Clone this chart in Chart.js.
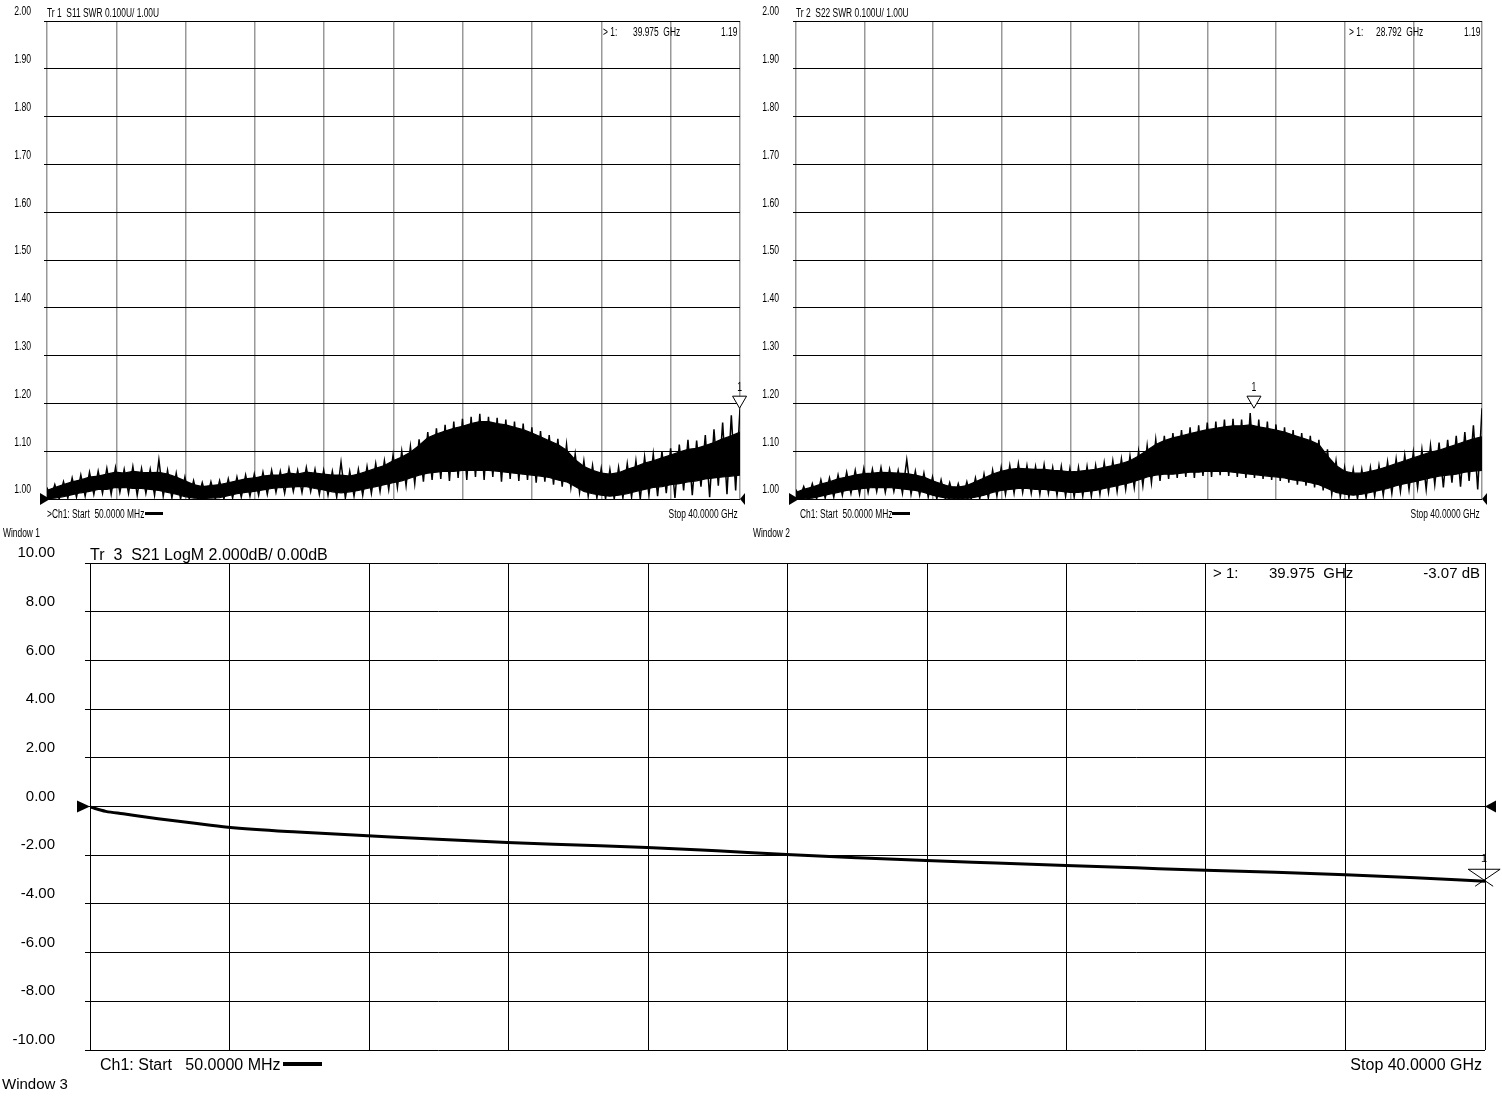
<!DOCTYPE html>
<html>
<head>
<meta charset="utf-8">
<script src="https://cdn.jsdelivr.net/npm/chart.js@4.4.1/dist/chart.umd.min.js"></script>
<style>
body { margin: 0; background: #fff; }
#page { position: relative; width: 1502px; height: 1096px; overflow: hidden; background: #fff; }
canvas { position: absolute; }
.t { position: absolute; white-space: pre; color: #000; line-height: 1; }
.n { font: 12px 'Liberation Sans', Arial, sans-serif; transform: scaleX(0.7); transform-origin: left top; }
.n.r { transform-origin: right top; }
.w { font: 16px 'Liberation Sans', Arial, Helvetica, sans-serif; }
.bar { position: absolute; background: #000; }
</style>
</head>
<body>
<div id="page">
<canvas id="c1" width="760" height="515" style="left:0;top:0"></canvas>
<canvas id="c2" width="750" height="515" style="left:752px;top:0"></canvas>
<canvas id="c3" width="1502" height="566" style="left:0;top:530px"></canvas>

<div class="t n" style="left:47px;top:6px">Tr 1  S11 SWR 0.100U/ 1.00U</div>
<div class="t n" style="left:603px;top:25px">&gt; 1:</div>
<div class="t n" style="left:633px;top:25px">39.975  GHz</div>
<div class="t n r" style="right:765px;top:25px">1.19</div>
<div class="t n" style="left:47px;top:507px">&gt;Ch1: Start  50.0000 MHz</div>
<div class="bar" style="left:145px;top:512px;width:18px;height:3px"></div>
<div class="t n r" style="right:764px;top:507px">Stop 40.0000 GHz</div>
<div class="t n" style="left:3px;top:526px">Window 1</div>

<div class="t n" style="left:796px;top:6px">Tr 2  S22 SWR 0.100U/ 1.00U</div>
<div class="t n" style="left:1349px;top:25px">&gt; 1:</div>
<div class="t n" style="left:1376px;top:25px">28.792  GHz</div>
<div class="t n r" style="right:22px;top:25px">1.19</div>
<div class="t n" style="left:800px;top:507px">Ch1: Start  50.0000 MHz</div>
<div class="bar" style="left:892px;top:512px;width:18px;height:3px"></div>
<div class="t n r" style="right:22px;top:507px">Stop 40.0000 GHz</div>
<div class="t n" style="left:753px;top:526px">Window 2</div>

<div class="t w" style="left:90px;top:546px">Tr  3  S21 LogM 2.000dB/ 0.00dB</div>
<div class="t w" style="left:1213px;top:564px;font-size:15px">&gt; 1:</div>
<div class="t w" style="left:1269px;top:564px;font-size:15px">39.975  GHz</div>
<div class="t w" style="right:22px;top:564px;font-size:15px">-3.07 dB</div>
<div class="t w" style="left:100px;top:1056px">Ch1: Start   50.0000 MHz</div>
<div class="bar" style="left:283px;top:1062px;width:39px;height:4px"></div>
<div class="t w" style="right:20px;top:1056px">Stop 40.0000 GHz</div>
<div class="t w" style="left:2px;top:1075px;font-size:15px">Window 3</div>
</div>

<script>
// sweep points (GHz) for the SWR noise band
const swrFreq = [0.05, 0.5, 1, 1.5, 2, 2.5, 3, 3.5, 4, 4.5, 5, 5.5, 6, 6.5, 7, 7.5, 8, 8.5, 9, 9.5,
  10, 10.5, 11, 11.5, 12, 12.5, 13, 13.5, 14, 14.5, 15, 15.5, 16, 16.5, 17, 17.5, 18, 18.5, 19, 19.5,
  20, 20.5, 21, 21.5, 22, 22.5, 23, 23.5, 24, 24.5, 25, 25.5, 26, 26.5, 27, 27.5, 28, 28.5, 29, 29.5,
  30, 30.5, 31, 31.5, 32, 32.5, 33, 33.5, 34, 34.5, 35, 35.5, 36, 36.5, 37, 37.5, 38, 38.5, 39, 39.5, 40];

// finer sweep points for the spikes
const swrFine = [0.05, 0.25, 0.5, 0.75, 1, 1.25, 1.5, 1.75, 2, 2.25, 2.5, 2.75, 3, 3.25, 3.5, 3.75, 4, 4.25, 4.5, 4.75,
  5, 5.25, 5.5, 5.75, 6, 6.25, 6.5, 6.75, 7, 7.25, 7.5, 7.75, 8, 8.25, 8.5, 8.75, 9, 9.25, 9.5, 9.75,
  10, 10.25, 10.5, 10.75, 11, 11.25, 11.5, 11.75, 12, 12.25, 12.5, 12.75, 13, 13.25, 13.5, 13.75, 14, 14.25, 14.5, 14.75,
  15, 15.25, 15.5, 15.75, 16, 16.25, 16.5, 16.75, 17, 17.25, 17.5, 17.75, 18, 18.25, 18.5, 18.75, 19, 19.25, 19.5, 19.75,
  20, 20.25, 20.5, 20.75, 21, 21.25, 21.5, 21.75, 22, 22.25, 22.5, 22.75, 23, 23.25, 23.5, 23.75, 24, 24.25, 24.5, 24.75,
  25, 25.25, 25.5, 25.75, 26, 26.25, 26.5, 26.75, 27, 27.25, 27.5, 27.75, 28, 28.25, 28.5, 28.75, 29, 29.25, 29.5, 29.75,
  30, 30.25, 30.5, 30.75, 31, 31.25, 31.5, 31.75, 32, 32.25, 32.5, 32.75, 33, 33.25, 33.5, 33.75, 34, 34.25, 34.5, 34.75,
  35, 35.25, 35.5, 35.75, 36, 36.25, 36.5, 36.75, 37, 37.25, 37.5, 37.75, 38, 38.25, 38.5, 38.75, 39, 39.25, 39.5, 39.75, 40];

// S11 SWR: solid core of the band (top / bottom)
const s11Hi = [1.018, 1.024, 1.03, 1.036, 1.04, 1.046, 1.048, 1.052, 1.056, 1.054, 1.058, 1.056, 1.055, 1.056, 1.052, 1.046, 1.038, 1.03, 1.026, 1.028,
  1.03, 1.034, 1.038, 1.042, 1.044, 1.048, 1.05, 1.05, 1.054, 1.052, 1.056, 1.054, 1.052, 1.05, 1.05, 1.048, 1.052, 1.058, 1.064, 1.07,
  1.08, 1.088, 1.098, 1.112, 1.128, 1.136, 1.142, 1.148, 1.152, 1.158, 1.162, 1.162, 1.158, 1.155, 1.15, 1.145, 1.138, 1.13, 1.122, 1.114,
  1.102, 1.082, 1.068, 1.06, 1.054, 1.052, 1.055, 1.062, 1.068, 1.075, 1.08, 1.086, 1.092, 1.098, 1.104, 1.106, 1.112, 1.118, 1.126, 1.132, 1.14];
const s11Lo = [1.000, 1.002, 1.005, 1.009, 1.013, 1.016, 1.02, 1.02, 1.024, 1.024, 1.022, 1.022, 1.02, 1.018, 1.014, 1.01, 1.005, 1.002, 1.001, 1.002,
  1.003, 1.007, 1.011, 1.014, 1.016, 1.019, 1.022, 1.024, 1.025, 1.026, 1.026, 1.022, 1.019, 1.015, 1.013, 1.015, 1.018, 1.022, 1.026, 1.03,
  1.034, 1.038, 1.044, 1.05, 1.054, 1.056, 1.058, 1.058, 1.06, 1.06, 1.06, 1.06, 1.058, 1.056, 1.054, 1.052, 1.05, 1.048, 1.045, 1.04,
  1.036, 1.026, 1.016, 1.011, 1.008, 1.006, 1.008, 1.011, 1.016, 1.02, 1.024, 1.026, 1.03, 1.032, 1.036, 1.038, 1.042, 1.044, 1.046, 1.048, 1.05];
// S11 SWR: spike tips, peak / dip alternating on swrFine
const s11Spikes = [1.024, 1.000, 1.03, 1.000, 1.036, 1.002, 1.044, 1.004, 1.05, 1.006, 1.056, 1.01, 1.058, 1.012, 1.064, 1.01, 1.066, 1.014, 1.062, 1.012,
  1.068, 1.008, 1.064, 1.012, 1.062, 1.008, 1.082, 1.006, 1.06, 1.002, 1.054, 1.000, 1.046, 1.000, 1.038, 1.000, 1.034, 1.000, 1.036, 1.000,
  1.038, 1.000, 1.042, 1.002, 1.046, 1.004, 1.05, 1.006, 1.052, 1.008, 1.056, 1.01, 1.06, 1.014, 1.058, 1.012, 1.064, 1.016, 1.06, 1.014,
  1.066, 1.016, 1.062, 1.01, 1.06, 1.008, 1.058, 1.004, 1.077, 1.002, 1.058, 1.006, 1.062, 1.008, 1.068, 1.012, 1.074, 1.016, 1.08, 1.02,
  1.092, 1.024, 1.1, 1.028, 1.11, 1.032, 1.125, 1.036, 1.14, 1.04, 1.148, 1.042, 1.155, 1.038, 1.162, 1.044, 1.168, 1.04, 1.172, 1.046,
  1.178, 1.04, 1.172, 1.046, 1.17, 1.036, 1.166, 1.042, 1.162, 1.038, 1.158, 1.04, 1.15, 1.034, 1.142, 1.036, 1.134, 1.03, 1.126, 1.026,
  1.114, 1.024, 1.094, 1.014, 1.08, 1.006, 1.07, 1.002, 1.064, 1.000, 1.062, 1.000, 1.066, 1.002, 1.074, 1.004, 1.08, 1.000, 1.088, 1.008,
  1.094, 1.006, 1.1, 1.012, 1.106, 1.002, 1.114, 1.018, 1.124, 1.008, 1.122, 1.026, 1.134, 1.004, 1.146, 1.028, 1.16, 1.01, 1.175, 1.018, 1.19];

// S22 SWR: solid core of the band (top / bottom)
const s22Hi = [1.014, 1.02, 1.025, 1.031, 1.036, 1.042, 1.046, 1.05, 1.053, 1.054, 1.056, 1.055, 1.054, 1.053, 1.05, 1.046, 1.038, 1.032, 1.026, 1.025,
  1.028, 1.036, 1.044, 1.052, 1.058, 1.062, 1.064, 1.063, 1.062, 1.062, 1.06, 1.059, 1.057, 1.058, 1.06, 1.062, 1.066, 1.07, 1.074, 1.08,
  1.09, 1.102, 1.114, 1.122, 1.128, 1.132, 1.137, 1.141, 1.145, 1.148, 1.151, 1.153, 1.153, 1.155, 1.151, 1.148, 1.144, 1.14, 1.134, 1.128,
  1.122, 1.114, 1.09, 1.07, 1.058, 1.054, 1.054, 1.058, 1.062, 1.068, 1.074, 1.08, 1.086, 1.092, 1.098, 1.102, 1.108, 1.114, 1.12, 1.126, 1.13];
const s22Lo = [1.000, 1.000, 1.002, 1.006, 1.01, 1.014, 1.018, 1.02, 1.022, 1.024, 1.024, 1.024, 1.022, 1.02, 1.018, 1.014, 1.008, 1.004, 1.001, 1.000,
  1.001, 1.004, 1.008, 1.014, 1.018, 1.02, 1.022, 1.022, 1.02, 1.02, 1.018, 1.016, 1.014, 1.014, 1.016, 1.018, 1.022, 1.026, 1.03, 1.034,
  1.04, 1.046, 1.05, 1.052, 1.052, 1.054, 1.056, 1.056, 1.058, 1.058, 1.058, 1.056, 1.054, 1.052, 1.05, 1.048, 1.046, 1.044, 1.04, 1.038,
  1.034, 1.03, 1.022, 1.014, 1.01, 1.008, 1.01, 1.014, 1.018, 1.022, 1.028, 1.032, 1.036, 1.04, 1.044, 1.048, 1.05, 1.052, 1.056, 1.058, 1.06];
// S22 SWR: spike tips, peak / dip alternating on swrFine
const s22Spikes = [1.02, 1.000, 1.026, 1.000, 1.032, 1.000, 1.04, 1.002, 1.044, 1.004, 1.05, 1.008, 1.056, 1.012, 1.06, 1.01, 1.064, 1.014, 1.062, 1.016,
  1.066, 1.014, 1.062, 1.016, 1.06, 1.012, 1.082, 1.01, 1.058, 1.008, 1.054, 1.004, 1.046, 1.000, 1.04, 1.000, 1.034, 1.000, 1.032, 1.000,
  1.036, 1.000, 1.044, 1.000, 1.052, 1.002, 1.06, 1.006, 1.066, 1.01, 1.07, 1.012, 1.074, 1.014, 1.07, 1.012, 1.068, 1.01, 1.072, 1.012,
  1.066, 1.008, 1.068, 1.006, 1.064, 1.004, 1.066, 1.006, 1.068, 1.006, 1.07, 1.01, 1.076, 1.014, 1.08, 1.016, 1.084, 1.02, 1.09, 1.024,
  1.1, 1.028, 1.112, 1.034, 1.124, 1.038, 1.132, 1.042, 1.138, 1.044, 1.144, 1.046, 1.15, 1.044, 1.154, 1.048, 1.16, 1.046, 1.162, 1.05,
  1.166, 1.048, 1.168, 1.046, 1.166, 1.044, 1.18, 1.044, 1.166, 1.042, 1.162, 1.04, 1.156, 1.038, 1.15, 1.034, 1.144, 1.03, 1.138, 1.028,
  1.132, 1.024, 1.124, 1.018, 1.104, 1.01, 1.08, 1.004, 1.066, 1.002, 1.062, 1.000, 1.062, 1.002, 1.066, 1.006, 1.07, 1.008, 1.078, 1.012,
  1.084, 1.016, 1.092, 1.02, 1.098, 1.024, 1.104, 1.02, 1.112, 1.03, 1.118, 1.024, 1.124, 1.034, 1.132, 1.026, 1.14, 1.038, 1.154, 1.02, 1.19];

// S21 insertion loss (dB)
const s21Freq = [0.05, 0.5, 1, 2, 3, 4, 6, 8, 10, 12, 14, 16, 18, 20, 22, 24, 26, 28, 30, 32, 34, 36, 38, 40];
const s21Db = [-0.02, -0.2, -0.3, -0.5, -0.68, -0.85, -1.05, -1.2, -1.35, -1.48, -1.58, -1.68, -1.82, -1.97,
  -2.1, -2.22, -2.32, -2.42, -2.52, -2.62, -2.7, -2.8, -2.93, -3.07];

const swrTicks = [1.0, 1.1, 1.2, 1.3, 1.4, 1.5, 1.6, 1.7, 1.8, 1.9, 2.0];
const dbTicks = [-10, -8, -6, -4, -2, 0, 2, 4, 6, 8, 10];

const fStart = 0.05, fStop = 40;
const sans = "'Liberation Sans', Arial, Helvetica, sans-serif";

function freqGrid(scale) {
    const step = (fStop - fStart) / 10;
    scale.ticks = [];
    for (let i = 0; i <= 10; i++) scale.ticks.push({ value: fStart + i * step });
}

// reference arrows, marker, and y labels (drawn narrow like the analyser screen)
const vnaDecor = {
    id: 'vnaDecor',
    afterDatasetsDraw(chart, args, o) {
        const ctx = chart.ctx, a = chart.chartArea;
        const xs = chart.scales.x, ys = chart.scales.y;
        ctx.save();

        ctx.fillStyle = '#000';
        ctx.font = o.labelFont;
        ctx.textAlign = 'right';
        ctx.textBaseline = 'middle';
        ys.ticks.forEach(t => {
            ctx.save();
            ctx.translate(o.labelRight, ys.getPixelForValue(t.value) + o.labelOff);
            ctx.scale(o.sx, 1);
            ctx.fillText(t.value.toFixed(2), 0, 0);
            ctx.restore();
        });

        const ry = ys.getPixelForValue(o.ref);
        ctx.beginPath();
        ctx.moveTo(a.left + o.tip, ry);
        ctx.lineTo(a.left - o.len, ry - o.half);
        ctx.lineTo(a.left - o.len, ry + o.half);
        ctx.closePath();
        ctx.fill();
        ctx.beginPath();
        ctx.moveTo(a.right, ry);
        ctx.lineTo(a.right + o.len - 2, ry - o.half);
        ctx.lineTo(a.right + o.len - 2, ry + o.half);
        ctx.closePath();
        ctx.fill();

        const mx = xs.getPixelForValue(o.mx), my = ys.getPixelForValue(o.my);
        ctx.strokeStyle = '#000';
        ctx.lineWidth = 1;
        if (o.cross) {
            ctx.beginPath();
            ctx.moveTo(mx - 16, my - 12); ctx.lineTo(mx + 16, my - 12);
            ctx.moveTo(mx - 16, my - 12); ctx.lineTo(mx + 9, my + 5);
            ctx.moveTo(mx + 16, my - 12); ctx.lineTo(mx - 9, my + 5);
            ctx.stroke();
        } else {
            ctx.fillStyle = '#fff';
            ctx.beginPath();
            ctx.moveTo(mx, my);
            ctx.lineTo(mx - 7, my - 12);
            ctx.lineTo(mx + 7, my - 12);
            ctx.closePath();
            ctx.fill();
            ctx.stroke();
        }
        ctx.fillStyle = '#000';
        ctx.font = o.markFont;
        ctx.textAlign = 'center';
        ctx.save();
        ctx.translate(mx, my - o.markUp);
        ctx.scale(o.sx, 1);
        ctx.fillText('1', 0, 0);
        ctx.restore();
        ctx.restore();
    }
};

function swrChart(id, hi, lo, spikes, labelRight, markerF) {
    return new Chart(document.getElementById(id), {
        type: 'line',
        data: {
            datasets: [{
                data: swrFreq.map((f, i) => ({ x: f, y: hi[i] })),
                borderColor: '#000',
                backgroundColor: '#000',
                borderWidth: 1.2,
                pointRadius: 0,
                fill: '+1'
            }, {
                data: swrFreq.map((f, i) => ({ x: f, y: lo[i] })),
                borderColor: '#000',
                borderWidth: 1.2,
                pointRadius: 0,
                fill: false
            }, {
                data: swrFine.map((f, i) => ({ x: f, y: spikes[i] })),
                borderColor: '#000',
                borderWidth: 1.5,
                pointRadius: 0,
                fill: false
            }]
        },
        options: {
            responsive: false,
            animation: false,
            layout: { padding: { left: 0, right: 20, top: 21, bottom: 16 } },
            plugins: {
                legend: { display: false },
                tooltip: { enabled: false },
                vnaDecor: { ref: 1.0, tip: 3, len: 7, half: 6, mx: markerF, my: 1.19, cross: false,
                            labelFont: '12px ' + sans, labelRight: labelRight, labelOff: -9, sx: 0.72,
                            markFont: '12px ' + sans, markUp: 20 }
            },
            scales: {
                x: {
                    type: 'linear', min: fStart, max: fStop,
                    afterBuildTicks: freqGrid,
                    afterFit: s => { s.height = 0; },
                    ticks: { display: false },
                    grid: { color: '#999', lineWidth: 1.5, drawTicks: false },
                    border: { display: false }
                },
                y: {
                    min: 1, max: 2,
                    afterBuildTicks: s => { s.ticks = swrTicks.map(v => ({ value: v })); },
                    afterFit: s => { s.width = labelRight === 31 ? 47 : 44; },
                    ticks: { display: false },
                    grid: { color: '#000', lineWidth: 1, tickLength: 3 },
                    border: { display: false }
                }
            }
        },
        plugins: [vnaDecor]
    });
}

swrChart('c1', s11Hi, s11Lo, s11Spikes, 31, 39.975);
swrChart('c2', s22Hi, s22Lo, s22Spikes, 27, 26.72);

new Chart(document.getElementById('c3'), {
    type: 'line',
    data: {
        datasets: [{
            data: s21Freq.map((f, i) => ({ x: f, y: s21Db[i] })),
            borderColor: '#000',
            borderWidth: 3,
            pointRadius: 0,
            cubicInterpolationMode: 'monotone',
            fill: false
        }]
    },
    options: {
        responsive: false,
        animation: false,
        layout: { padding: { left: 0, right: 17, top: 33, bottom: 46 } },
        plugins: {
            legend: { display: false },
            tooltip: { enabled: false },
            vnaDecor: { ref: 0, tip: 0, len: 13, half: 6, mx: 39.975, my: -3.07, cross: true,
                        labelFont: '15px ' + sans, labelRight: 55, labelOff: -10, sx: 1,
                        markFont: '11px ' + sans, markUp: 22 }
        },
        scales: {
            x: {
                type: 'linear', min: fStart, max: fStop,
                afterBuildTicks: freqGrid,
                afterFit: s => { s.height = 0; },
                ticks: { display: false },
                grid: { color: '#000', lineWidth: 1, drawTicks: false },
                border: { display: false }
            },
            y: {
                min: -10, max: 10,
                afterBuildTicks: s => { s.ticks = dbTicks.map(v => ({ value: v })); },
                afterFit: s => { s.width = 90; },
                ticks: { display: false },
                grid: { color: '#000', lineWidth: 1, tickLength: 5 },
                border: { display: false }
            }
        }
    },
    plugins: [vnaDecor]
});
</script>
</body>
</html>
